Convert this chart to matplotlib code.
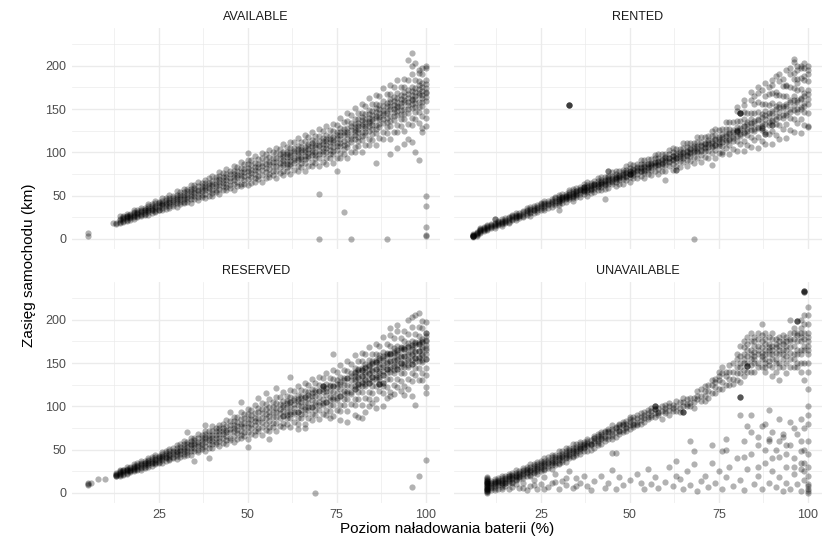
import matplotlib.pyplot as plt
import numpy as np

plt.rcParams['font.family'] = ['Liberation Sans', 'DejaVu Sans']

statuses = ['AVAILABLE', 'RENTED', 'RESERVED', 'UNAVAILABLE']

# poziom baterii (%) -> zasięgi (km)
available = {
    5: [3, 7], 12: [18], 13: [17, 19],
    14: [18, 20, 22, 23, 26], 15: [20, 21, 23, 24, 25, 26], 16: [22, 24, 25, 26, 27, 29, 21],
    17: [24, 25, 26, 28, 29, 22], 18: [23, 25, 27, 28, 30, 31, 33], 19: [25, 27, 29, 30, 31, 33],
    20: [28, 29, 31, 32, 34, 36, 26], 21: [29, 31, 33, 34, 36, 28], 22: [28, 31, 33, 34, 36, 38, 40],
    23: [30, 33, 34, 36, 38, 40], 24: [32, 35, 37, 38, 41, 44, 31], 25: [34, 37, 39, 41, 43, 33],
    26: [33, 36, 39, 40, 42, 44, 47], 27: [35, 38, 40, 42, 45, 47], 28: [38, 41, 43, 45, 47, 51, 36],
    29: [40, 43, 45, 47, 50, 38], 30: [37, 41, 44, 46, 49, 51, 55], 31: [40, 43, 46, 48, 51, 54],
    32: [43, 46, 49, 51, 54, 58, 41], 33: [46, 49, 52, 55, 58, 43], 34: [42, 46, 50, 52, 55, 58, 62],
    35: [46, 50, 53, 56, 59, 62], 36: [48, 52, 55, 57, 61, 66, 45], 37: [51, 55, 58, 61, 65, 49],
    38: [47, 52, 56, 59, 61, 65, 68], 39: [50, 55, 59, 62, 65, 70], 40: [53, 57, 61, 63, 67, 73, 50],
    41: [57, 61, 64, 68, 71, 54], 42: [52, 58, 62, 66, 69, 73, 77], 43: [56, 61, 65, 68, 72, 76],
    44: [60, 64, 68, 71, 75, 81, 56], 45: [62, 67, 70, 75, 79, 59], 46: [57, 63, 68, 72, 75, 79, 84],
    47: [61, 66, 71, 74, 78, 83], 48: [64, 70, 74, 77, 82, 89, 61], 49: [68, 73, 77, 81, 86, 64],
    50: [62, 69, 74, 78, 82, 86, 91, 99], 51: [65, 72, 76, 80, 85, 91], 52: [70, 75, 80, 83, 88, 96, 66],
    53: [73, 79, 83, 87, 92, 69], 54: [66, 74, 80, 84, 88, 93, 99], 55: [70, 77, 82, 87, 92, 98],
    56: [75, 81, 86, 89, 95, 103, 71], 57: [78, 84, 89, 94, 100, 74], 58: [70, 78, 84, 89, 93, 99, 105],
    59: [76, 83, 88, 93, 98, 104], 60: [79, 85, 91, 95, 101, 110, 74, 88, 98],
    61: [83, 90, 95, 101, 106, 79, 87, 98], 62: [75, 84, 90, 95, 100, 105, 112, 87, 97],
    63: [80, 88, 94, 99, 105, 112, 91, 102], 64: [84, 91, 97, 101, 107, 117, 79, 94, 104],
    65: [88, 95, 100, 106, 112, 83, 92, 103], 66: [79, 88, 96, 101, 106, 113, 120, 92, 103],
    67: [84, 93, 99, 104, 110, 118, 96, 107], 68: [89, 97, 103, 107, 114, 124, 84, 100, 111],
    69: [93, 101, 106, 113, 119, 88, 97, 109], 70: [84, 94, 102, 107, 113, 119, 127, 98, 109, 0, 52],
    71: [89, 98, 105, 110, 117, 125, 102, 113], 72: [93, 101, 108, 113, 120, 131, 87, 105, 116],
    73: [98, 107, 112, 119, 126, 93, 103, 115], 74: [88, 98, 106, 112, 118, 125, 133, 102, 114],
    75: [94, 103, 111, 117, 124, 132, 107, 120, 78], 76: [99, 107, 115, 120, 128, 140, 93, 111, 124],
    77: [104, 113, 120, 127, 135, 98, 109, 123, 31], 78: [94, 106, 115, 121, 128, 136, 145, 110, 124],
    79: [101, 112, 119, 126, 134, 143, 115, 130, 0], 80: [106, 116, 124, 129, 138, 151, 100, 120, 133, 126],
    81: [113, 123, 130, 138, 146, 107, 118, 134, 127],
    82: [101, 114, 123, 130, 137, 146, 156, 119, 133, 141],
    83: [109, 120, 128, 135, 144, 153, 124, 139, 131],
    84: [115, 125, 134, 140, 149, 163, 108, 130, 144, 136],
    85: [121, 132, 139, 148, 156, 114, 127, 143, 136],
    86: [108, 122, 132, 140, 147, 156, 166, 127, 142, 151, 88],
    87: [117, 129, 138, 146, 155, 165, 133, 150, 141],
    88: [123, 134, 143, 149, 159, 174, 115, 139, 154, 145],
    89: [129, 140, 148, 157, 167, 122, 135, 153, 145, 0],
    90: [116, 130, 142, 150, 158, 167, 178, 136, 153, 162, 98],
    91: [124, 137, 147, 155, 164, 176, 142, 159, 150],
    92: [132, 143, 152, 158, 168, 183, 124, 148, 163, 154, 105],
    93: [138, 149, 157, 166, 176, 131, 144, 162, 154],
    94: [125, 139, 150, 158, 165, 175, 185, 144, 161, 170, 110],
    95: [133, 146, 155, 163, 172, 183, 150, 167, 158, 115, 207],
    96: [140, 151, 160, 166, 176, 191, 132, 156, 171, 162, 215, 112, 200],
    97: [147, 157, 165, 174, 183, 139, 152, 170, 162, 100, 203],
    98: [134, 147, 158, 166, 173, 182, 192, 152, 169, 178, 91, 195],
    99: [142, 154, 163, 171, 180, 190, 158, 175, 166, 123, 128, 198],
    100: [148, 159, 168, 174, 184, 198, 140, 164, 179, 170, 50, 38, 14, 5, 3, 130, 200],
}

rented = {
    6: [2, 3, 4, 4, 5, 6, 4, 5, 3], 7: [4, 5, 6, 7, 8, 7], 8: [7, 8, 9, 10, 10, 12, 13], 9: [9, 10, 11, 13, 14],
    10: [10, 11, 13, 14, 15, 16], 11: [13, 14, 15, 16, 17], 12: [13, 15, 16, 17, 18, 23, 23],
    13: [16, 17, 18, 20, 21], 14: [15, 17, 18, 20, 21, 23], 15: [18, 20, 21, 22, 24], 16: [18, 20, 22, 24, 25],
    17: [22, 23, 25, 26, 28], 18: [22, 24, 25, 27, 28, 30], 19: [24, 26, 27, 28, 30], 20: [25, 27, 29, 31, 32],
    21: [28, 30, 32, 34, 36], 22: [27, 30, 31, 33, 35, 37], 23: [30, 33, 34, 36, 38], 24: [31, 33, 36, 37, 39],
    25: [34, 36, 38, 40, 42], 26: [34, 36, 38, 40, 42, 44], 27: [36, 39, 40, 42, 44], 28: [37, 40, 43, 44, 46],
    29: [39, 42, 44, 47, 49], 30: [39, 42, 44, 46, 48, 51, 44, 46, 34], 31: [42, 45, 47, 49, 52, 46, 48],
    32: [43, 46, 49, 50, 52, 47, 50], 33: [46, 49, 51, 54, 57, 49, 52, 155, 155, 155, 155],
    34: [44, 47, 50, 52, 55, 58, 50, 53], 35: [48, 51, 53, 55, 59, 52, 55], 36: [49, 52, 56, 58, 60, 54, 57],
    37: [52, 55, 57, 60, 63, 55, 58, 60, 60], 38: [50, 54, 57, 60, 62, 66, 57, 60],
    39: [53, 57, 59, 62, 65, 58, 61], 40: [54, 58, 62, 64, 67, 60, 63], 41: [57, 60, 63, 67, 70, 61, 64],
    42: [56, 60, 63, 66, 68, 72, 63, 66], 43: [58, 62, 65, 68, 72, 64, 67, 46],
    44: [59, 63, 68, 71, 73, 66, 69, 78, 78], 45: [63, 66, 69, 73, 77, 67, 70],
    46: [61, 66, 69, 72, 75, 79, 69, 72], 47: [64, 68, 71, 74, 78, 70, 73], 48: [64, 69, 74, 77, 80, 72, 75],
    49: [68, 72, 76, 80, 84, 73, 77], 50: [66, 71, 75, 78, 82, 86, 75, 79, 75, 75],
    51: [70, 74, 77, 81, 85, 76, 80], 52: [70, 75, 80, 83, 86, 78, 82], 53: [73, 78, 82, 87, 91, 79, 83],
    54: [70, 76, 79, 83, 87, 91, 80, 84], 55: [75, 80, 83, 87, 92, 82, 86], 56: [74, 80, 85, 88, 92, 83, 87],
    57: [79, 84, 88, 93, 97, 85, 89], 58: [75, 81, 85, 89, 94, 98, 86, 90], 59: [79, 84, 88, 92, 98, 87, 91],
    60: [79, 85, 91, 95, 98, 89, 93, 68], 61: [84, 89, 93, 98, 103, 90, 94],
    62: [80, 86, 91, 96, 100, 105, 92, 96], 63: [84, 90, 94, 99, 104, 93, 97, 80, 80],
    64: [83, 90, 96, 100, 104, 94, 98], 65: [89, 94, 99, 105, 111, 96, 100],
    66: [84, 91, 96, 101, 106, 111, 97, 102], 67: [90, 96, 100, 105, 111, 99, 104],
    68: [88, 95, 102, 107, 111, 100, 105, 0], 69: [94, 100, 105, 112, 118, 102, 107],
    70: [89, 97, 102, 107, 112, 118, 103, 108], 71: [95, 102, 106, 111, 118, 105, 110],
    72: [94, 102, 110, 114, 119, 106, 112], 73: [99, 106, 111, 119, 125, 107, 113, 85],
    74: [94, 103, 108, 114, 120, 127, 109, 115], 75: [99, 107, 112, 118, 126, 110, 116],
    76: [98, 107, 116, 121, 127, 112, 118, 100], 77: [105, 112, 119, 127, 135, 114, 121],
    78: [98, 108, 114, 121, 127, 135, 115, 122], 79: [104, 113, 119, 126, 135, 117, 124],
    80: [102, 113, 123, 129, 136, 119, 126, 125, 125, 148, 152],
    81: [110, 119, 126, 136, 145, 121, 128, 145, 145, 145],
    82: [102, 113, 122, 130, 138, 147, 123, 131, 155, 160], 83: [109, 120, 127, 135, 146, 125, 133],
    84: [106, 118, 131, 138, 146, 126, 134, 160, 170], 85: [114, 125, 134, 146, 156, 127, 136, 165],
    86: [105, 118, 128, 137, 147, 158, 129, 139, 168, 175], 87: [113, 126, 134, 144, 156, 131, 141, 128, 128, 172],
    88: [110, 124, 139, 148, 156, 133, 143, 121, 121, 165, 180], 89: [121, 132, 142, 155, 167, 135, 145, 175],
    90: [110, 125, 136, 146, 157, 169, 137, 148, 132, 132, 178, 184], 91: [120, 133, 142, 153, 166, 139, 150, 170, 188],
    92: [116, 132, 147, 156, 166, 141, 152, 182, 190], 93: [127, 140, 151, 165, 177, 143, 154, 185],
    94: [117, 133, 143, 154, 165, 177, 145, 156, 178, 195], 95: [126, 140, 150, 161, 176, 147, 158, 190, 198],
    96: [123, 139, 155, 165, 174, 149, 160, 204, 208, 185, 192], 97: [134, 147, 158, 172, 185, 150, 161, 200, 195, 180],
    98: [122, 139, 150, 162, 173, 186, 152, 163, 197, 200], 99: [132, 147, 157, 169, 183, 154, 165, 197, 188, 203],
    100: [129, 146, 162, 172, 182, 156, 167, 200, 130, 190, 195],
}

reserved = {
    5: [9, 11, 10], 6: [12], 8: [16], 10: [16],
    13: [19, 20, 21, 21, 22, 23], 14: [20, 21, 22, 23, 24, 25, 26], 15: [21, 22, 24, 25, 26, 27],
    16: [23, 25, 26, 27, 28, 30, 22], 17: [25, 26, 27, 29, 30, 24], 18: [25, 27, 28, 29, 30, 31, 33],
    19: [26, 28, 30, 31, 32, 34], 20: [29, 30, 32, 33, 35, 37, 27], 21: [30, 32, 34, 35, 37, 29],
    22: [30, 32, 34, 35, 37, 38, 40], 23: [31, 34, 35, 37, 39, 41], 24: [34, 36, 38, 39, 41, 44, 33],
    25: [36, 38, 40, 41, 43, 34], 26: [35, 38, 40, 41, 43, 45, 47], 27: [37, 40, 42, 44, 46, 49],
    28: [39, 42, 44, 45, 48, 51, 38], 29: [42, 45, 47, 49, 52, 40], 30: [39, 43, 45, 47, 49, 52, 55],
    31: [42, 45, 48, 50, 53, 56], 32: [45, 48, 51, 53, 56, 60, 43], 33: [47, 50, 53, 56, 59, 44, 70],
    34: [44, 48, 52, 55, 57, 60, 64], 35: [48, 52, 55, 58, 61, 64, 37], 36: [50, 54, 57, 59, 63, 68, 47],
    37: [53, 57, 60, 63, 67, 51], 38: [49, 54, 59, 62, 65, 68, 72, 78], 39: [52, 57, 61, 64, 67, 72, 40],
    40: [56, 60, 64, 67, 71, 77, 52], 41: [59, 64, 67, 71, 75, 56], 42: [54, 60, 64, 68, 71, 75, 79],
    43: [58, 63, 68, 71, 75, 80], 44: [61, 66, 70, 73, 77, 84, 57], 45: [64, 70, 74, 78, 83, 61, 93],
    46: [59, 66, 71, 75, 79, 83, 88], 47: [62, 69, 73, 77, 82, 88], 48: [67, 72, 77, 80, 85, 93, 63, 105],
    49: [70, 76, 81, 86, 91, 66], 50: [62, 70, 76, 81, 85, 91, 97, 53], 51: [68, 75, 80, 85, 90, 96],
    52: [71, 78, 83, 87, 92, 101, 67], 53: [75, 82, 87, 93, 98, 71, 110], 54: [67, 76, 82, 87, 92, 97, 104],
    55: [73, 80, 86, 91, 97, 103, 115], 56: [76, 83, 89, 93, 99, 109, 71, 62], 57: [81, 88, 93, 99, 105, 76],
    58: [72, 81, 88, 93, 98, 104, 111, 121], 59: [77, 86, 92, 97, 103, 111],
    60: [81, 89, 95, 99, 106, 116, 76, 89, 101], 61: [86, 94, 99, 106, 112, 80, 90, 104],
    62: [76, 86, 94, 99, 105, 111, 119, 91, 105, 134], 63: [82, 91, 98, 103, 110, 118, 93, 107],
    64: [86, 94, 101, 106, 113, 124, 80, 94, 108, 74], 65: [91, 100, 105, 112, 119, 86, 96, 110],
    66: [80, 91, 99, 105, 111, 118, 127, 97, 111, 75], 67: [87, 96, 104, 110, 117, 125, 99, 113],
    68: [91, 99, 107, 112, 120, 132, 84, 99, 115], 69: [96, 105, 112, 119, 127, 90, 101, 117, 0],
    70: [85, 96, 105, 111, 118, 125, 134, 102, 118], 71: [91, 102, 109, 116, 124, 133, 104, 120, 124, 124],
    72: [96, 105, 113, 118, 126, 139, 90, 105, 121], 73: [102, 111, 118, 125, 133, 95, 107, 123, 86],
    74: [89, 101, 111, 117, 124, 132, 142, 108, 124, 160], 75: [96, 107, 115, 122, 130, 140, 110, 126],
    76: [102, 112, 120, 126, 134, 148, 95, 112, 128, 84], 77: [108, 118, 125, 133, 142, 101, 114, 130],
    78: [95, 108, 118, 125, 133, 141, 152, 115, 133, 82], 79: [103, 114, 123, 130, 139, 149, 117, 135],
    80: [109, 120, 129, 135, 144, 159, 102, 120, 138, 124, 140, 131, 90],
    81: [116, 126, 134, 143, 152, 108, 122, 140, 126, 142, 133, 88],
    82: [102, 116, 127, 135, 142, 152, 162, 124, 142, 128, 144, 135, 86],
    83: [110, 123, 132, 140, 149, 160, 126, 144, 130, 146, 137, 94],
    84: [116, 127, 137, 143, 153, 169, 108, 127, 147, 132, 148, 139, 100],
    85: [123, 134, 142, 152, 161, 115, 129, 149, 134, 150, 141, 104],
    86: [108, 123, 134, 143, 151, 161, 172, 131, 151, 136, 153, 143, 98],
    87: [118, 131, 141, 149, 159, 170, 134, 154, 139, 156, 146, 126, 126, 126],
    88: [124, 136, 146, 153, 163, 180, 115, 136, 156, 141, 158, 148, 127, 127, 100],
    89: [131, 143, 151, 162, 172, 122, 138, 158, 143, 160, 150, 110],
    90: [116, 131, 143, 152, 160, 170, 182, 140, 160, 145, 162, 152, 112, 190],
    91: [125, 138, 149, 157, 167, 179, 142, 162, 147, 164, 154, 114],
    92: [131, 143, 153, 160, 170, 187, 122, 143, 163, 148, 165, 155, 194],
    93: [138, 150, 158, 169, 179, 129, 145, 165, 150, 167, 157, 118],
    94: [123, 138, 149, 158, 166, 176, 187, 146, 166, 151, 168, 158, 113],
    95: [132, 145, 155, 163, 173, 184, 148, 168, 153, 170, 160, 120, 200],
    96: [138, 149, 159, 166, 176, 192, 129, 149, 169, 154, 171, 161, 7, 112, 203],
    97: [144, 156, 164, 174, 184, 136, 151, 171, 156, 173, 163, 102, 205],
    98: [130, 144, 156, 164, 172, 181, 192, 152, 172, 157, 174, 164, 19, 208],
    99: [138, 151, 161, 169, 178, 190, 154, 174, 159, 176, 166, 130, 198],
    100: [144, 155, 165, 171, 181, 197, 136, 155, 175, 160, 177, 167, 38, 115, 122, 185, 185],
}

unavailable = {
    10: [0, 1, 2, 3, 4, 5, 6, 7, 8, 9, 10, 11, 12, 13, 14, 15, 16, 17, 18, 2, 5, 8, 11, 14],
    11: [7, 9, 11, 12, 14, 6, 3], 12: [6, 8, 10, 11, 13, 14, 16, 3], 13: [9, 11, 13, 14, 15, 17, 5],
    14: [11, 12, 14, 15, 17, 19, 9, 4, 7], 15: [12, 14, 16, 17, 19, 11, 8], 16: [12, 14, 16, 17, 19, 20, 22, 4],
    17: [13, 16, 17, 19, 21, 23, 7, 11], 18: [16, 18, 20, 21, 23, 26, 15, 10], 19: [18, 20, 22, 23, 25, 16, 6],
    20: [17, 20, 22, 23, 25, 27, 29, 12, 6], 21: [20, 23, 24, 26, 28, 30, 3], 22: [21, 24, 26, 27, 30, 33, 20, 8],
    23: [24, 27, 29, 31, 33, 23, 15, 9], 24: [22, 25, 28, 29, 31, 33, 36, 5], 25: [25, 28, 30, 32, 34, 37, 10],
    26: [28, 31, 33, 34, 37, 40, 27, 18, 5], 27: [31, 34, 36, 38, 41, 29, 7], 28: [28, 32, 34, 36, 38, 41, 44, 12],
    29: [32, 35, 37, 39, 42, 44, 22, 13], 30: [35, 38, 40, 42, 44, 48, 33, 4], 31: [38, 41, 43, 45, 48, 36, 14],
    32: [36, 40, 42, 44, 46, 49, 52, 9, 17], 33: [40, 43, 45, 47, 50, 52, 25], 34: [43, 46, 48, 50, 52, 56, 41, 6],
    35: [46, 49, 51, 53, 56, 44, 17, 8], 36: [45, 48, 51, 52, 54, 56, 59, 52, 11], 37: [49, 52, 53, 55, 57, 59, 20],
    38: [48, 55, 60, 8, 54, 58, 62], 39: [50, 57, 55, 3, 56, 61], 40: [52, 60, 63, 14, 58, 64, 66],
    41: [55, 58, 66, 60, 62, 68], 42: [57, 62, 68, 70, 20, 63, 66], 43: [60, 66, 6, 64, 70, 72],
    44: [62, 70, 72, 12, 66, 74], 45: [62, 66, 74, 46, 26, 68, 72, 78], 46: [65, 75, 46, 4, 70, 76],
    47: [68, 72, 78, 18, 71, 76, 80], 48: [70, 78, 9, 73, 80, 82], 49: [72, 80, 75, 76, 83],
    50: [74, 82, 85, 15, 78, 88], 51: [76, 80, 79, 84, 88], 52: [78, 86, 82, 22, 80, 90], 53: [80, 88, 12, 84, 92],
    54: [82, 90, 5, 86, 94], 55: [85, 92, 28, 88, 96], 56: [88, 95, 10, 90, 98], 57: [100, 100, 100, 97, 97, 88, 18, 92],
    58: [90, 92, 6, 94, 98], 59: [85, 95, 100], 60: [92, 98, 13, 95, 102], 61: [90, 100, 30, 96, 104],
    62: [95, 102, 8, 98], 63: [95, 37, 20, 100, 106], 64: [93, 105, 16, 98], 65: [93, 93, 93, 100, 5, 105, 110],
    66: [100, 108, 25, 103], 67: [104, 60, 9, 110, 100], 68: [98, 110, 49, 33, 105], 69: [112, 2, 108, 118],
    70: [106, 120, 14, 112], 71: [118, 112, 20, 106, 124], 72: [110, 125, 7, 118], 73: [125, 130, 55, 35, 115],
    74: [115, 128, 12, 122, 132], 75: [130, 135, 25, 120, 140], 76: [120, 138, 48, 5, 128, 145],
    77: [135, 125, 50, 62, 18, 140], 78: [125, 140, 30, 132, 148], 79: [140, 132, 8, 150, 126],
    80: [130, 155, 145, 40, 138, 160], 81: [145, 128, 111, 111, 111, 90, 15, 150, 158, 170, 138],
    82: [135, 160, 150, 3, 142, 168, 175, 155, 42, 60], 83: [150, 147, 147, 147, 165, 77, 28, 140, 158, 172, 180],
    84: [140, 165, 155, 90, 45, 148, 160, 175, 185, 70], 85: [158, 170, 150, 180, 10, 140, 163, 175, 155],
    86: [145, 170, 160, 55, 20, 150, 165, 178, 185, 30, 65], 87: [162, 155, 175, 77, 195, 4, 145, 168, 182, 158],
    88: [150, 165, 140, 172, 35, 155, 160, 178, 185, 145, 50, 80], 89: [168, 160, 148, 62, 60, 12, 96, 152, 172, 180, 165],
    90: [155, 170, 135, 178, 25, 145, 160, 165, 185, 40, 70], 91: [172, 150, 162, 50, 7, 140, 155, 168, 178],
    92: [160, 175, 130, 145, 42, 18, 150, 165, 180, 170, 60, 85], 93: [175, 145, 165, 68, 65, 2, 155, 160, 172, 182],
    94: [165, 138, 180, 30, 12, 150, 158, 170, 175, 55, 45], 95: [178, 155, 168, 82, 55, 5, 200, 145, 162, 175, 185],
    96: [170, 145, 185, 40, 22, 155, 160, 178, 190, 75, 30], 97: [182, 160, 198, 198, 198, 68, 10, 185, 150, 165, 175, 145],
    98: [175, 150, 140, 190, 85, 48, 28, 2, 160, 165, 180, 200, 185, 60, 35],
    99: [185, 165, 130, 233, 233, 233, 232, 232, 75, 35, 15, 150, 170, 178, 195, 205, 50, 25],
    100: [160, 175, 195, 205, 215, 140, 120, 100, 90, 80, 60, 45, 30, 20, 8, 0, 185, 2, 5, 10, 150, 165, 180, 170],
}

data = {'AVAILABLE': available, 'RENTED': rented, 'RESERVED': reserved, 'UNAVAILABLE': unavailable}

fig = plt.figure(figsize=(8.3, 5.43), dpi=100)
positions = [
    [0.0867, 0.5414, 0.4434, 0.407],
    [0.547, 0.5414, 0.4434, 0.407],
    [0.0867, 0.0737, 0.4434, 0.407],
    [0.547, 0.0737, 0.4434, 0.407],
]

for idx, status in enumerate(statuses):
    ax = fig.add_axes(positions[idx])
    cols = data[status]
    xs = np.array([lvl for lvl, vals in cols.items() for _ in vals], dtype=float)
    ys = np.array([v for lvl, vals in cols.items() for v in vals], dtype=float)
    ax.scatter(xs, ys, s=20, c='black', alpha=0.3, linewidths=0, zorder=3)

    ax.set_xlim(0.6, 104)
    ax.set_ylim(-11.6, 243.6)
    ax.set_xticks([25, 50, 75, 100])
    ax.set_xticks([12.5, 37.5, 62.5, 87.5], minor=True)
    ax.set_yticks([0, 50, 100, 150, 200])
    ax.set_yticks([25, 75, 125, 175, 225], minor=True)
    ax.grid(which='major', color='#EBEBEB', linewidth=1.0, zorder=0)
    ax.grid(which='minor', color='#EBEBEB', linewidth=0.5, zorder=0)
    ax.set_axisbelow(True)
    for sp in ax.spines.values():
        sp.set_visible(False)
    ax.tick_params(which='both', length=0, labelsize=9, labelcolor='#4D4D4D', pad=4)
    if idx < 2:
        ax.tick_params(labelbottom=False)
    if idx % 2 == 1:
        ax.tick_params(labelleft=False)
    ax.set_title(status, fontsize=9, color='#1A1A1A', pad=6)

fig.text(0.5385, 0.012, 'Poziom naładowania baterii (%)', ha='center', va='bottom', fontsize=11)
fig.text(0.035, 0.511, 'Zasięg samochodu (km)', ha='center', va='center', rotation=90, fontsize=11)

plt.savefig('out.png', dpi=100)
